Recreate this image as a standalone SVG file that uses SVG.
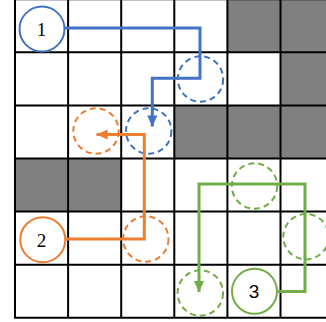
<svg xmlns="http://www.w3.org/2000/svg" width="326" height="322" viewBox="0 0 326 322">
<defs>
<style>
.cell{fill:#808080;}
.grid{stroke:#000;stroke-width:2;fill:none;}
.c{fill:#fff;stroke-width:2;}
.d{fill:none;stroke-width:2;stroke-dasharray:6 4;}
.b{stroke:#4472C4;}
.o{stroke:#ED7D31;}
.g{stroke:#70AD47;}
.p{fill:none;stroke-width:3;}
.lbl{font-family:"Liberation Serif","Times New Roman",serif;font-size:19px;text-anchor:middle;fill:#000;}
.lbl3{font-family:"Liberation Sans",Arial,sans-serif;font-size:19px;text-anchor:middle;fill:#000;}
</style>
<marker id="ab" markerWidth="4" markerHeight="4" refX="3.7" refY="2" orient="auto" markerUnits="strokeWidth" viewBox="0 0 4 4"><path d="M0,0.3 L3.7,2 L0,3.7 Z" fill="#4472C4"/></marker>
<marker id="ao" markerWidth="4" markerHeight="4" refX="3.7" refY="2" orient="auto" markerUnits="strokeWidth" viewBox="0 0 4 4"><path d="M0,0.3 L3.7,2 L0,3.7 Z" fill="#ED7D31"/></marker>
<marker id="ag" markerWidth="4" markerHeight="4" refX="3.7" refY="2" orient="auto" markerUnits="strokeWidth" viewBox="0 0 4 4"><path d="M0,0.3 L3.7,2 L0,3.7 Z" fill="#70AD47"/></marker>
</defs>
<rect width="326" height="322" fill="#fff"/>
<g id="grid">
<rect class="cell" x="227.4" y="-0.8" width="53.1" height="53.1"/>
<rect class="cell" x="280.5" y="-0.8" width="53.1" height="53.1"/>
<rect class="cell" x="280.5" y="52.3" width="53.1" height="53.1"/>
<rect class="cell" x="174.3" y="105.4" width="53.1" height="53.1"/>
<rect class="cell" x="227.4" y="105.4" width="53.1" height="53.1"/>
<rect class="cell" x="280.5" y="105.4" width="53.1" height="53.1"/>
<rect class="cell" x="15" y="158.5" width="53.1" height="53.1"/>
<rect class="cell" x="68.1" y="158.5" width="53.1" height="53.1"/>
<path class="grid" d="M15,-1V318.8 M68.1,-1V318.8 M121.2,-1V318.8 M174.3,-1V318.8 M227.4,-1V318.8 M280.5,-1V318.8 M14,-0.8H334 M14,52.3H334 M14,105.4H334 M14,158.5H334 M14,211.6H334 M14,264.7H334 M14,317.8H334"/>
</g>
<g id="ghosts">
<circle class="d b" cx="200.5" cy="79" r="22.7"/>
<circle class="d b" cx="148.7" cy="131" r="22.7"/>
<circle class="d o" cx="96" cy="131" r="22.7"/>
<circle class="d o" cx="145.8" cy="239" r="22.7"/>
<circle class="d g" cx="254.5" cy="186" r="22.7"/>
<circle class="d g" cx="306" cy="236.7" r="22.7"/>
<circle class="d g" cx="200.3" cy="293" r="22.7"/>
</g>
<g id="connectors">
<path class="p b" d="M64.5,28 H200 V78.3 H152.3 V126.5" marker-end="url(#ab)"/>
<path class="p o" d="M65.5,239 H144.3 V134.5 H96.5" marker-end="url(#ao)"/>
<path class="p g" d="M277,291.5 H305 V184 H199 V292" marker-end="url(#ag)"/>
</g>
<g id="node1">
<circle class="c b" cx="42" cy="29" r="22.5"/>
<text class="lbl" x="41.5" y="35.5">1</text>
</g>
<g id="node2">
<circle class="c o" cx="42.8" cy="239.7" r="22.5"/>
<text class="lbl" x="41.5" y="246.5">2</text>
</g>
<g id="node3">
<circle class="c g" cx="254.5" cy="291.3" r="22.5"/>
<text class="lbl3" x="254" y="298">3</text>
</g>
</svg>
